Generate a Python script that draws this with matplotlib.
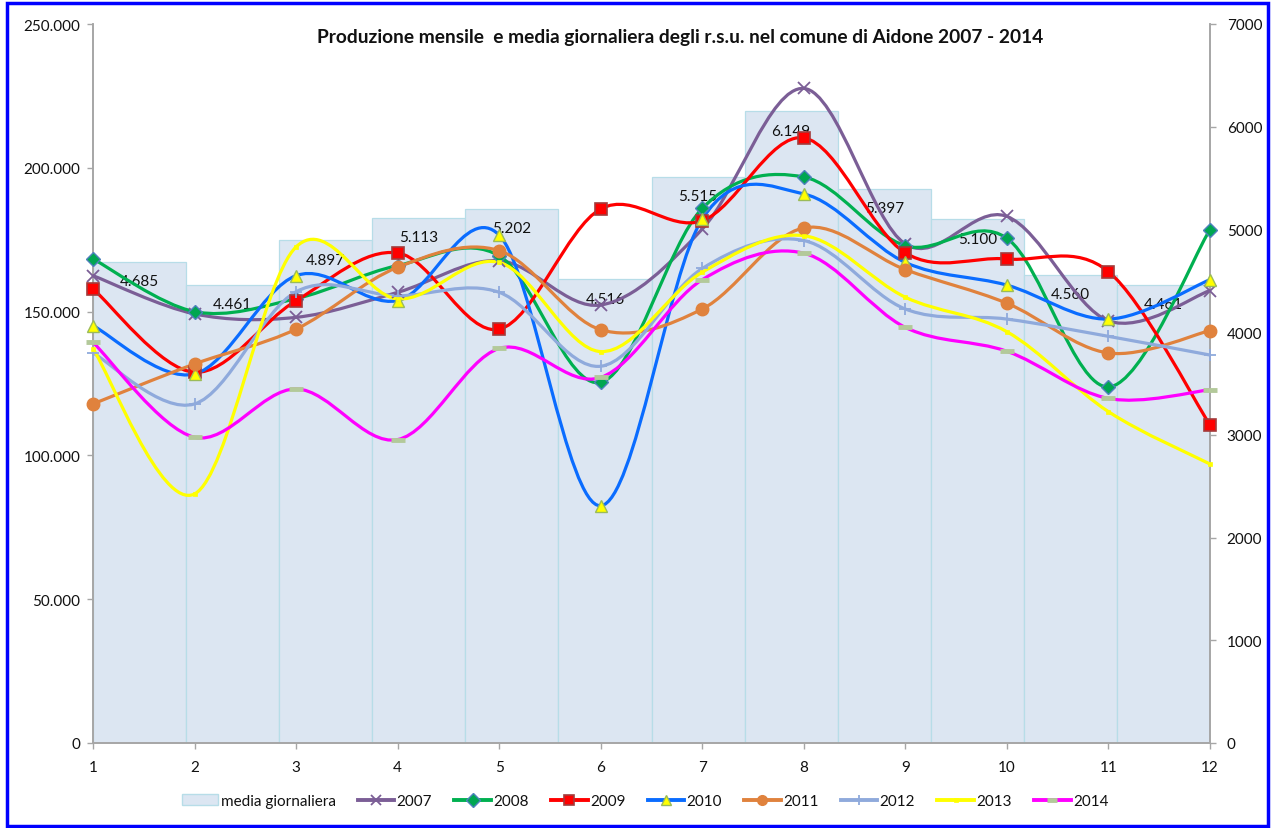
import matplotlib
matplotlib.use("Agg")
import matplotlib.pyplot as plt
import numpy as np
from matplotlib.path import Path
from matplotlib.patches import PathPatch, Rectangle, Patch
from matplotlib.lines import Line2D
from matplotlib.ticker import FuncFormatter, MultipleLocator

plt.rcParams["font.family"] = ["Lato", "DejaVu Sans"]

# ---- data ----
months = np.arange(1, 13)
media_giornaliera = [4685, 4461, 4897, 5113, 5202, 4516, 5515, 6149, 5397, 5100, 4560, 4461]

y2007 = [162.5, 149.2, 148.0, 156.7, 167.7, 152.3, 178.7, 227.6, 173.5, 183.1, 146.8, 157.3]
y2008 = [168.3, 150.0, 154.5, 166.0, 169.4, 125.4, 185.9, 196.8, 172.9, 175.5, 123.8, 178.5]
y2009 = [157.9, 128.9, 153.8, 170.4, 143.9, 185.7, 181.6, 210.4, 170.4, 168.3, 163.9, 110.6]
y2010 = [145.1, 128.3, 162.5, 153.8, 176.6, 82.5, 182.2, 190.9, 167.1, 159.2, 147.4, 161.1]
y2011 = [117.9, 131.8, 143.9, 165.4, 171.2, 143.7, 150.9, 179.1, 164.6, 152.9, 135.6, 143.4]
y2012 = [135.6, 117.9, 156.9, 155.5, 156.7, 131.0, 165.0, 174.7, 150.9, 147.4, 141.4, 134.9]
y2013 = [137.0, 86.6, 172.5, 154.4, 167.1, 136.1, 163.7, 176.4, 155.0, 143.0, 115.2, 97.0]
y2014 = [139.3, 106.3, 123.1, 105.5, 137.2, 127.1, 161.1, 170.3, 144.5, 136.2, 119.8, 122.8]

series = [
    ("2007", y2007, dict(color="#7B5E96", marker="x", mfc="#7B5E96", mec="#7B5E96", ms=9, mew=1.3)),
    ("2008", y2008, dict(color="#00B050", marker="D", mfc="#00A651", mec="#4F81BD", ms=7, mew=1.0)),
    ("2009", y2009, dict(color="#FF0000", marker="s", mfc="#FF0000", mec="#A33B3B", ms=9, mew=1.2)),
    ("2010", y2010, dict(color="#0A6CFF", marker="^", mfc="#FFFF00", mec="#9BBB59", ms=9, mew=1.0)),
    ("2011", y2011, dict(color="#E0823D", marker="o", mfc="#E0823D", mec="#E0823D", ms=9, mew=1.0)),
    ("2012", y2012, dict(color="#8FAADC", marker="+", mfc="#8FAADC", mec="#8FAADC", ms=9, mew=1.3)),
    ("2013", y2013, dict(color="#FFFF00", marker="s", mfc="#FFFF00", mec="#FFFF00", ms=3.5, mew=0.5)),
    ("2014", y2014, dict(color="#FF00FF", marker="_", mfc="#B3C99A", mec="#B3C99A", ms=10, mew=3.5)),
]


def smooth_path(xs, ys):
    """Catmull-Rom style Bezier path through the points (like Excel smoothed lines)."""
    pts = np.column_stack([xs, ys]).astype(float)
    n = len(pts)
    verts = [pts[0]]
    codes = [Path.MOVETO]
    for i in range(n - 1):
        p0 = pts[max(i - 1, 0)]
        p1 = pts[i]
        p2 = pts[i + 1]
        p3 = pts[min(i + 2, n - 1)]
        verts += [p1 + (p2 - p0) / 6.0, p2 - (p3 - p1) / 6.0, p2]
        codes += [Path.CURVE4] * 3
    return Path(verts, codes)


# ---- figure ----
W, H = 1272, 829
fig = plt.figure(figsize=(W / 100, H / 100), dpi=100)
ax = fig.add_axes([93 / W, 1 - 744 / H, 1117 / W, 719 / H])
ax2 = ax.twinx()

# bars (right axis)
bw = 11 / 12
bx = 1 + (np.arange(12) + 0.5) * bw
ax2.bar(bx, media_giornaliera, width=bw, color="#DCE6F2", edgecolor="#B7DDE8",
        linewidth=0.9, zorder=1)
for xi, v in zip(bx, media_giornaliera):
    ax2.text(xi, v - 190, f"{v / 1000:.3f}", ha="center", va="center",
             fontsize=11, color="#111111", zorder=2)
ax2.set_ylim(0, 7000)
ax2.yaxis.set_major_locator(MultipleLocator(1000))

# lines (left axis), drawn on top of bars
ax.set_zorder(ax2.get_zorder() + 1)
ax.patch.set_visible(False)
for name, vals, st in series:
    yv = np.array(vals) * 1000
    ax.add_patch(PathPatch(smooth_path(months, yv), fill=False, edgecolor=st["color"],
                           lw=2.3, capstyle="round", joinstyle="round", zorder=3))
    ax.plot(months, yv, linestyle="none", marker=st["marker"], mfc=st["mfc"],
            mec=st["mec"], ms=st["ms"], mew=st["mew"], zorder=4, clip_on=False)

ax.set_xlim(1, 12)
ax.set_ylim(0, 250000)
ax.set_xticks(months)
ax.yaxis.set_major_locator(MultipleLocator(50000))
ax.yaxis.set_major_formatter(FuncFormatter(lambda v, p: f"{v:,.0f}".replace(",", ".")))

for a in (ax, ax2):
    for s in a.spines.values():
        s.set_color("#A6A6A6")
        s.set_linewidth(1.2)
    a.spines["top"].set_visible(False)
    a.tick_params(colors="#A6A6A6", labelcolor="#111111", labelsize=11, length=4, width=1)
ax.tick_params(axis="x", pad=8)
ax.tick_params(axis="y", pad=5)
ax2.tick_params(axis="y", pad=8)

# title
fig.text(680 / W, 1 - 37 / H,
         "Produzione mensile  e media giornaliera degli r.s.u. nel comune di Aidone 2007 - 2014",
         ha="center", va="center", fontsize=13.8, fontweight="bold", color="#111111")

# legend
handles = [Patch(facecolor="#DCE6F2", edgecolor="#B7DDE8", label="media giornaliera")]
for name, vals, st in series:
    handles.append(Line2D([0], [0], color=st["color"], lw=2.8, marker=st["marker"],
                          mfc=st["mfc"], mec=st["mec"], ms=min(st["ms"], 7), mew=st["mew"],
                          label=name))
fig.legend(handles=handles, loc="center", bbox_to_anchor=(645 / W, 1 - 802 / H), ncol=9,
           frameon=False, fontsize=11, handlelength=2.4, columnspacing=1.45,
           handletextpad=0.15, labelcolor="#111111")

# blue outer frame
fig.add_artist(Rectangle((7 / W, 2 / H), 1261 / W, 823 / H, transform=fig.transFigure,
                         fill=False, edgecolor="#0000FF", lw=2.5))

fig.savefig("out.png", dpi=100)
